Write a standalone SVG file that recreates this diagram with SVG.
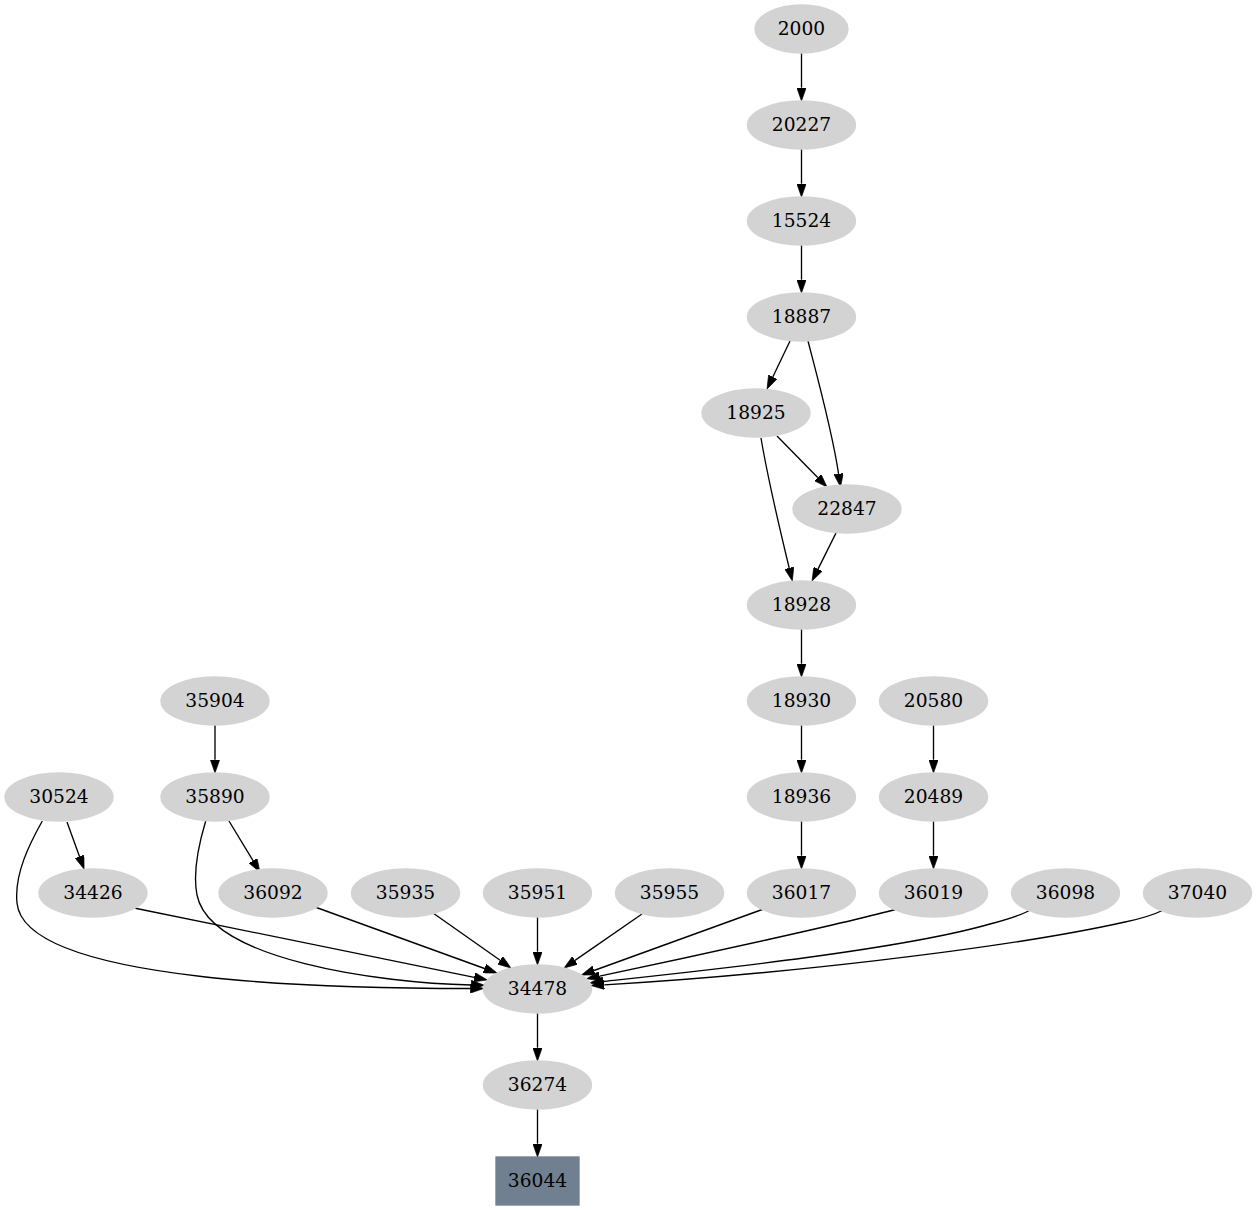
<svg xmlns="http://www.w3.org/2000/svg" width="1257" height="1211" viewBox="0 0 1257 1211">
<style>
.n ellipse{fill:#d3d3d3;stroke:#d3d3d3;stroke-width:1.33}
.n rect{fill:#708090;stroke:#708090;stroke-width:1.33}
.n text{font-family:"DejaVu Serif","Liberation Serif",serif;font-size:18.67px;text-anchor:middle;fill:#000}
#edges path{fill:none;stroke:#000;stroke-width:1.33;marker-end:url(#a)}
</style>
<defs>
<marker id="a" viewBox="0 0 10 7" refX="0" refY="3.5" markerWidth="13.33" markerHeight="9.33" markerUnits="userSpaceOnUse" orient="auto">
<path d="M0,0 L10,3.5 L0,7 z" fill="#000" stroke="#000" stroke-width="0.5"/>
</marker>
</defs>
<rect width="1257" height="1211" fill="#fff"/>
<g id="edges">
<path d="M801.5,53 L801.5,87.7"/>
<path d="M801.5,149 L801.5,183.7"/>
<path d="M801.5,245 L801.5,279.7"/>
<path d="M790,341 L772.8,377"/>
<path d="M808,341 C817,376 832,430 838.6,473.9"/>
<path d="M777,436 L817.7,477.5"/>
<path d="M761,438 C768,480 780,530 789.2,568"/>
<path d="M836,533 L818,569.1"/>
<path d="M801.5,629 L801.5,663.7"/>
<path d="M801.5,725 L801.5,759.7"/>
<path d="M933.5,725 L933.5,759.7"/>
<path d="M801.5,821 L801.5,855.7"/>
<path d="M933.5,821 L933.5,855.7"/>
<path d="M215,725 L215,759.7"/>
<path d="M67,822 L79.5,856.5"/>
<path d="M229,821 L253,860.7"/>
<path d="M42.3,821 C30,843 14,874 17,903 C25,985 350,988.5 470.3,988.5"/>
<path d="M205.7,821 C200,840 192,870 197,895 C210,960 380,983 471.2,985"/>
<path d="M134,908 L474.3,977.3"/>
<path d="M315,907 L484.5,968.5"/>
<path d="M433,913 L500.1,960.3"/>
<path d="M537.5,917 L537.5,951.7"/>
<path d="M642,914 L575,960.4"/>
<path d="M763.6,909 L594,970.5"/>
<path d="M897,909 C850,922 700,955 599.6,976.1"/>
<path d="M1030,910 C1020,916 1005,920 990,924 C900,950 700,971 603,981.5"/>
<path d="M1163.6,910 C1153,915 1140,919 1125,922 C1000,950 760,976 604.3,984.8"/>
<path d="M537.5,1013 L537.5,1047.7"/>
<path d="M537.5,1109 L537.5,1143.7"/>
</g>
<g id="n2000" class="n"><ellipse cx="801.5" cy="29" rx="46.5" ry="24"/><text x="801.5" y="35">2000</text></g>
<g id="n20227" class="n"><ellipse cx="801.5" cy="125" rx="54" ry="24"/><text x="801.5" y="131">20227</text></g>
<g id="n15524" class="n"><ellipse cx="801.5" cy="221" rx="54" ry="24"/><text x="801.5" y="227">15524</text></g>
<g id="n18887" class="n"><ellipse cx="801.5" cy="317" rx="54" ry="24"/><text x="801.5" y="323">18887</text></g>
<g id="n18925" class="n"><ellipse cx="756" cy="413" rx="54" ry="24"/><text x="756" y="419">18925</text></g>
<g id="n22847" class="n"><ellipse cx="847" cy="509" rx="54" ry="24"/><text x="847" y="515">22847</text></g>
<g id="n18928" class="n"><ellipse cx="801.5" cy="605" rx="54" ry="24"/><text x="801.5" y="611">18928</text></g>
<g id="n18930" class="n"><ellipse cx="801.5" cy="701" rx="54" ry="24"/><text x="801.5" y="707">18930</text></g>
<g id="n20580" class="n"><ellipse cx="933.5" cy="701" rx="54" ry="24"/><text x="933.5" y="707">20580</text></g>
<g id="n18936" class="n"><ellipse cx="801.5" cy="797" rx="54" ry="24"/><text x="801.5" y="803">18936</text></g>
<g id="n20489" class="n"><ellipse cx="933.5" cy="797" rx="54" ry="24"/><text x="933.5" y="803">20489</text></g>
<g id="n35904" class="n"><ellipse cx="215" cy="701" rx="54" ry="24"/><text x="215" y="707">35904</text></g>
<g id="n30524" class="n"><ellipse cx="59" cy="797" rx="54" ry="24"/><text x="59" y="803">30524</text></g>
<g id="n35890" class="n"><ellipse cx="215" cy="797" rx="54" ry="24"/><text x="215" y="803">35890</text></g>
<g id="n34426" class="n"><ellipse cx="93" cy="893" rx="54" ry="24"/><text x="93" y="899">34426</text></g>
<g id="n36092" class="n"><ellipse cx="273" cy="893" rx="54" ry="24"/><text x="273" y="899">36092</text></g>
<g id="n35935" class="n"><ellipse cx="405.5" cy="893" rx="54" ry="24"/><text x="405.5" y="899">35935</text></g>
<g id="n35951" class="n"><ellipse cx="537.5" cy="893" rx="54" ry="24"/><text x="537.5" y="899">35951</text></g>
<g id="n35955" class="n"><ellipse cx="669.5" cy="893" rx="54" ry="24"/><text x="669.5" y="899">35955</text></g>
<g id="n36017" class="n"><ellipse cx="801.5" cy="893" rx="54" ry="24"/><text x="801.5" y="899">36017</text></g>
<g id="n36019" class="n"><ellipse cx="933.5" cy="893" rx="54" ry="24"/><text x="933.5" y="899">36019</text></g>
<g id="n36098" class="n"><ellipse cx="1065.5" cy="893" rx="54" ry="24"/><text x="1065.5" y="899">36098</text></g>
<g id="n37040" class="n"><ellipse cx="1197.5" cy="893" rx="54" ry="24"/><text x="1197.5" y="899">37040</text></g>
<g id="n34478" class="n"><ellipse cx="537.5" cy="989" rx="54" ry="24"/><text x="537.5" y="995">34478</text></g>
<g id="n36274" class="n"><ellipse cx="537.5" cy="1085" rx="54" ry="24"/><text x="537.5" y="1091">36274</text></g>
<g id="n36044" class="n"><rect x="496" y="1157" width="83" height="48"/><text x="537.5" y="1187">36044</text></g>
</svg>
